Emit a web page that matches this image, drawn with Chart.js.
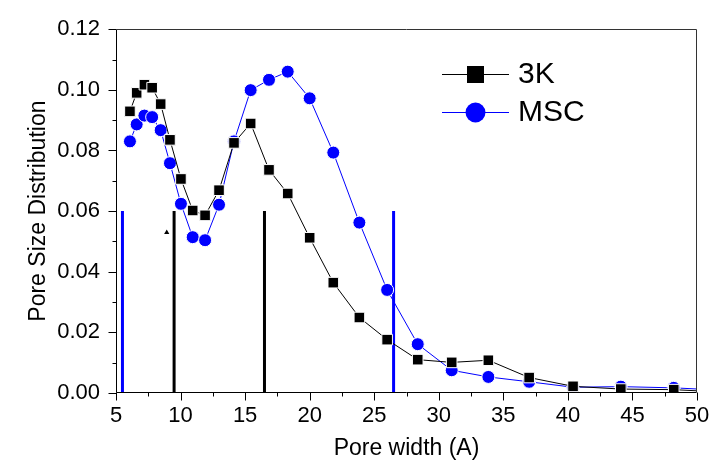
<!DOCTYPE html>
<html>
<head>
<meta charset="utf-8">
<script src="https://cdn.jsdelivr.net/npm/chart.js@4/dist/chart.umd.min.js"></script>
<style>
  html, body { margin: 0; padding: 0; background: #fff; }
  #wrap { width: 724px; height: 461px; }
</style>
</head>
<body>
<div id="wrap"><canvas id="psd" width="724" height="461"></canvas></div>
<script>
// pore width (A), shared by both samples; last point lies past the axis end
const poreWidth = [6.08, 6.6, 7.2, 7.8, 8.46, 9.18, 10.03, 10.94, 11.9, 12.98, 14.14, 15.43, 16.85, 18.3, 20.0, 21.83, 23.85, 26.0, 28.37, 31.0, 33.84, 37.0, 40.4, 44.1, 48.2, 52.5];
const psd3K = [0.0929, 0.0990, 0.1017, 0.1007, 0.0953, 0.0835, 0.0706, 0.0602, 0.0586, 0.0669, 0.0825, 0.0889, 0.0736, 0.0658, 0.0512, 0.0364, 0.0249, 0.0176, 0.0110, 0.0101, 0.0108, 0.0051, 0.0022, 0.0013, 0.0011, 0.0002];
const psdMSC = [0.0830, 0.0886, 0.0915, 0.0910, 0.0867, 0.0758, 0.0624, 0.0514, 0.0504, 0.0621, 0.0830, 0.0999, 0.1033, 0.1060, 0.0972, 0.0793, 0.0562, 0.0340, 0.0161, 0.0075, 0.0053, 0.0037, 0.0019, 0.0021, 0.0017, 0.0008];

// vertical marker lines
const marks3K = [9.5, 16.5];
const marksMSC = [5.5, 26.5];
const markTop = 0.06;
const arrowMark = [8.93, 0.0529];

const xTicks = [5, 10, 15, 20, 25, 30, 35, 40, 45, 50];
const yTicks = [0, 0.02, 0.04, 0.06, 0.08, 0.10, 0.12];

const BLUE = "#0000ff";
const FONT = "'Liberation Sans', Arial, sans-serif";

const toPoints = (xs, ys) => xs.map((x, i) => ({ x: x, y: ys[i] }));

const markLine = (x, color) => ({
  data: [{ x: x, y: 0 }, { x: x, y: markTop }],
  showLine: true,
  borderColor: color,
  borderWidth: 3,
  pointRadius: 0,
});

const frameAndTicks = {
  id: "frameAndTicks",
  afterDatasetsDraw(chart) {
    const ctx = chart.ctx;
    const a = chart.chartArea;
    const xs = chart.scales.x;
    const ys = chart.scales.y;
    ctx.save();
    ctx.lineWidth = 1;
    ctx.strokeStyle = "#000";
    const L = Math.round(a.left) + 0.5;
    const R = Math.round(a.right) - 0.5;
    const T = Math.round(a.top) + 0.5;
    const B = Math.round(a.bottom) - 0.5;
    ctx.beginPath();
    for (let v = xTicks[0]; v <= xTicks[xTicks.length - 1] + 1e-9; v += 2.5) {
      const px = Math.round(xs.getPixelForValue(v)) + 0.5;
      const len = xTicks.includes(v) ? 8 : 4;
      ctx.moveTo(px, B);
      ctx.lineTo(px, B + len);
    }
    for (let i = 0; i <= 12; i++) {
      const v = i * 0.01;
      const py = Math.round(ys.getPixelForValue(v)) + 0.5;
      const len = i % 2 === 0 ? 8 : 4;
      ctx.moveTo(L, py);
      ctx.lineTo(L - len, py);
    }
    ctx.moveTo(L, T);
    ctx.lineTo(L, B);
    ctx.lineTo(R, B);
    ctx.stroke();
    ctx.strokeStyle = "#333";
    ctx.beginPath();
    ctx.moveTo(L, T);
    ctx.lineTo(R, T);
    ctx.lineTo(R, B);
    ctx.stroke();
    ctx.restore();
  },
};

const seriesLegend = {
  id: "seriesLegend",
  afterDraw(chart) {
    const ctx = chart.ctx;
    ctx.save();
    ctx.font = "30px " + FONT;
    ctx.textBaseline = "middle";
    ctx.fillStyle = "#000";
    // 3K
    ctx.strokeStyle = "#000";
    ctx.lineWidth = 1;
    ctx.beginPath();
    ctx.moveTo(442, 74.5);
    ctx.lineTo(509, 74.5);
    ctx.stroke();
    ctx.fillRect(467, 66, 17, 17);
    ctx.fillText("3K", 518, 75);
    // MSC
    ctx.strokeStyle = BLUE;
    ctx.beginPath();
    ctx.moveTo(442, 112.5);
    ctx.lineTo(509, 112.5);
    ctx.stroke();
    ctx.fillStyle = BLUE;
    ctx.beginPath();
    ctx.arc(475.5, 112.5, 10, 0, Math.PI * 2);
    ctx.fill();
    ctx.fillStyle = "#000";
    ctx.fillText("MSC", 518, 113);
    ctx.restore();
  },
};

new Chart(document.getElementById("psd").getContext("2d"), {
  type: "scatter",
  data: {
    datasets: [
      {
        label: "3K",
        data: toPoints(poreWidth, psd3K),
        showLine: true,
        borderColor: "#000",
        borderWidth: 1,
        backgroundColor: "#000",
        pointStyle: "rect",
        pointRadius: 7.5,
        pointBorderColor: "#fff",
        pointBorderWidth: 1,
      },
      {
        label: "MSC",
        data: toPoints(poreWidth, psdMSC),
        showLine: true,
        borderColor: BLUE,
        borderWidth: 1,
        backgroundColor: BLUE,
        pointStyle: "circle",
        pointRadius: 6.5,
        pointBorderColor: "#fff",
        pointBorderWidth: 1,
      },
      {
        data: [{ x: arrowMark[0], y: arrowMark[1] }],
        backgroundColor: "#000",
        borderColor: "#000",
        pointStyle: "triangle",
        pointRadius: 3,
        pointBorderWidth: 0,
      },
      ...marks3K.map((x) => markLine(x, "#000")),
      ...marksMSC.map((x) => markLine(x, BLUE)),
    ],
  },
  options: {
    responsive: false,
    animation: false,
    events: [],
    layout: { padding: { top: 19, right: 27, left: 0, bottom: 0 } },
    plugins: {
      legend: { display: false },
      tooltip: { enabled: false },
    },
    scales: {
      x: {
        type: "linear",
        min: 5,
        max: 50,
        afterFit: (s) => { s.height = 68; },
        afterBuildTicks: (s) => { s.ticks = xTicks.map((v) => ({ value: v })); },
        grid: { display: false, drawTicks: false },
        border: { display: false },
        ticks: {
          color: "#000",
          padding: 10,
          maxRotation: 0,
          font: { family: FONT, size: 22 },
        },
        title: {
          display: true,
          text: "Pore width (A)",
          color: "#000",
          padding: { top: 0, bottom: 0 },
          font: { family: FONT, size: 23, lineHeight: 1.1 },
        },
      },
      y: {
        type: "linear",
        min: 0,
        max: 0.12,
        afterFit: (s) => { s.width = 116; },
        afterBuildTicks: (s) => { s.ticks = yTicks.map((v) => ({ value: v })); },
        grid: { display: false, drawTicks: false },
        border: { display: false },
        ticks: {
          color: "#000",
          padding: 16,
          callback: (v) => v.toFixed(2),
          font: { family: FONT, size: 22 },
        },
        title: {
          display: true,
          text: "Pore Size Distribution",
          color: "#000",
          padding: { top: 25, bottom: 0 },
          font: { family: FONT, size: 23 },
        },
      },
    },
  },
  plugins: [frameAndTicks, seriesLegend],
});
</script>
</body>
</html>
